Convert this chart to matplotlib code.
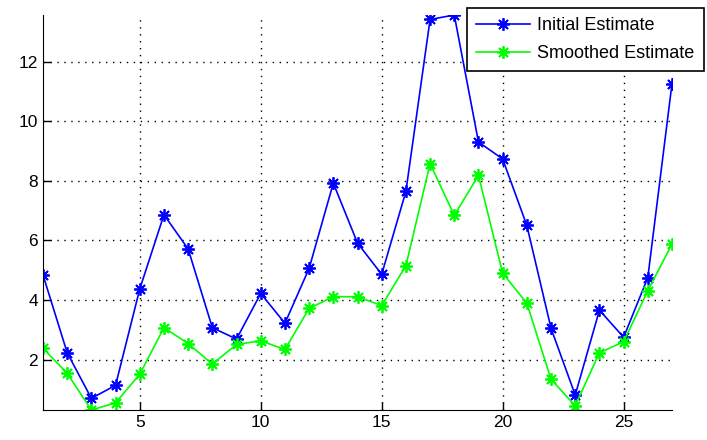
import numpy as np
import matplotlib.pyplot as plt

# data
x = list(range(1, 28))
initial = [4.84, 2.23, 0.70, 1.14, 4.37, 6.86, 5.71, 3.07, 2.69, 4.22,
           3.22, 5.06, 7.92, 5.91, 4.86, 7.64, 13.41, 13.56, 9.30, 8.73,
           6.50, 3.05, 0.81, 3.66, 2.75, 4.75, 11.26]
smoothed = [2.38, 1.54, 0.31, 0.55, 1.51, 3.07, 2.54, 1.85, 2.51, 2.63,
            2.34, 3.72, 4.11, 4.11, 3.81, 5.15, 8.57, 6.84, 8.18, 4.90,
            3.89, 1.34, 0.45, 2.23, 2.60, 4.31, 5.88]
xticks = [5, 10, 15, 20, 25]
yticks = [2, 4, 6, 8, 10, 12]

plt.rcParams['font.family'] = ['Liberation Sans', 'DejaVu Sans']

fig = plt.figure(figsize=(7.07, 4.4), dpi=100)
ax = fig.add_axes([43/707, 1-410/440, (672-43)/707, (410-15)/440])

# matlab style asterisk marker
ast = (8, 2, 0)
ax.plot(x, initial, color='#0000ff', marker=ast, markersize=9, mew=1.3,
        lw=1.2, label='Initial Estimate')
ax.plot(x, smoothed, color='#00ff00', marker=ast, markersize=9, mew=1.3,
        lw=1.2, label='Smoothed Estimate')

ax.set_xlim(1, 27)
ax.set_ylim(min(smoothed), max(initial))
ax.set_xticks(xticks)
ax.set_yticks(yticks)
ax.tick_params(direction='in', length=6, width=1, labelsize=12.5, colors='black')
ax.grid(True, linestyle=(0, (1, 4)), color='black', lw=1)
ax.spines['top'].set_visible(False)
ax.spines['right'].set_visible(False)

# legend pinned to the top right of the figure
leg = ax.legend(loc='upper left', bbox_to_anchor=(467/707, 1-8/440),
                bbox_transform=fig.transFigure, borderaxespad=0,
                fancybox=False, edgecolor='black', framealpha=1,
                fontsize=13, handlelength=3.0, handletextpad=0.4,
                borderpad=0.5, labelspacing=0.6)
leg.get_frame().set_linewidth(1.2)

fig.savefig('out.png', dpi=100)
